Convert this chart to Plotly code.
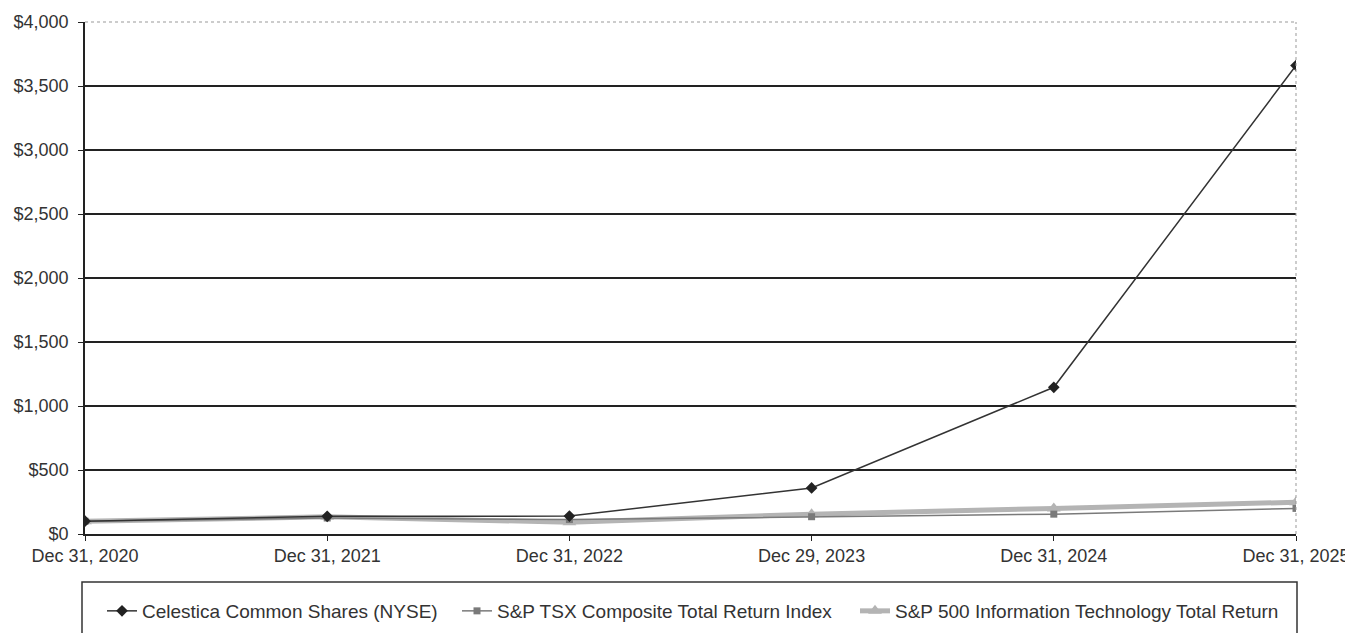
import plotly.graph_objects as go

dates = ["Dec 31, 2020", "Dec 31, 2021", "Dec 31, 2022", "Dec 29, 2023", "Dec 31, 2024", "Dec 31, 2025"]
celestica = [100, 138, 140, 360, 1146, 3660]
tsx = [100, 125, 113, 135, 155, 200]
sp_it = [100, 134, 92, 155, 200, 248]
y_ticks = [0, 500, 1000, 1500, 2000, 2500, 3000, 3500, 4000]
y_labels = ["$0", "$500", "$1,000", "$1,500", "$2,000", "$2,500", "$3,000", "$3,500", "$4,000"]

x = list(range(len(dates)))
FONT = "Liberation Sans, Arial, sans-serif"

PL, PW = 85, 1211   # plot left (page px) and width
def px(page_x):
    return (page_x - PL) / PW

leg_y = -(592 - 535) / 513

fig = go.Figure()
fig.add_trace(go.Scatter(x=x, y=sp_it, name="S&P 500 Information Technology Total Return",
                         mode="lines+markers", line=dict(color="#b4b4b4", width=5),
                         marker=dict(symbol="triangle-up", size=12, color="#b4b4b4"),
                         legend="legend3"))
fig.add_trace(go.Scatter(x=x, y=tsx, name="S&P TSX Composite Total Return Index",
                         mode="lines+markers", line=dict(color="#7a7a7a", width=1.5),
                         marker=dict(symbol="square", size=7, color="#7a7a7a"),
                         legend="legend2"))
fig.add_trace(go.Scatter(x=x, y=celestica, name="Celestica Common Shares (NYSE)",
                         mode="lines+markers", line=dict(color="#333333", width=1.5),
                         marker=dict(symbol="diamond", size=9, color="#222222"),
                         legend="legend"))

# legend box
fig.add_shape(type="rect", xref="paper", yref="paper",
              x0=px(82), x1=px(1297),
              y0=-(660 - 535) / 513, y1=-(583 - 535) / 513,
              line=dict(color="#333333", width=1.5), fillcolor="rgba(0,0,0,0)")
# top and right dotted border
fig.add_shape(type="line", xref="paper", yref="paper", x0=0, x1=1, y0=1, y1=1,
              line=dict(color="#999999", width=1, dash="dot"))
fig.add_shape(type="line", xref="paper", yref="paper", x0=1, x1=1, y0=0, y1=1,
              line=dict(color="#999999", width=1, dash="dot"))

leg_common = dict(orientation="h", yanchor="top", y=leg_y, xanchor="left",
                  font=dict(family=FONT, size=19, color="#333333"),
                  bgcolor="rgba(0,0,0,0)")

fig.update_layout(
    width=1353, height=633,
    margin=dict(l=77, r=65, t=14, b=106),
    paper_bgcolor="white", plot_bgcolor="white",
    font=dict(family=FONT, size=18, color="#333333"),
    showlegend=True,
    legend=dict(x=px(102), **leg_common),
    legend2=dict(x=px(457), **leg_common),
    legend3=dict(x=px(855), **leg_common),
    xaxis=dict(range=[0, 5], tickmode="array", tickvals=x, ticktext=dates, automargin=False,
               showgrid=False, zeroline=False, showline=True, linecolor="#222222", linewidth=1.5,
               ticks="outside", ticklen=5, tickcolor="#222222",
               tickfont=dict(family=FONT, size=18, color="#333333")),
    yaxis=dict(range=[0, 4000], tickmode="array", tickvals=y_ticks, ticktext=y_labels, automargin=False,
               showgrid=True, gridcolor="#222222", gridwidth=1.5, zeroline=False,
               showline=True, linecolor="#222222", linewidth=1.5,
               ticks="outside", ticklen=5, tickcolor="#222222", ticklabelstandoff=6,
               tickfont=dict(family=FONT, size=18, color="#333333")),
)

fig.write_html("out.html")
